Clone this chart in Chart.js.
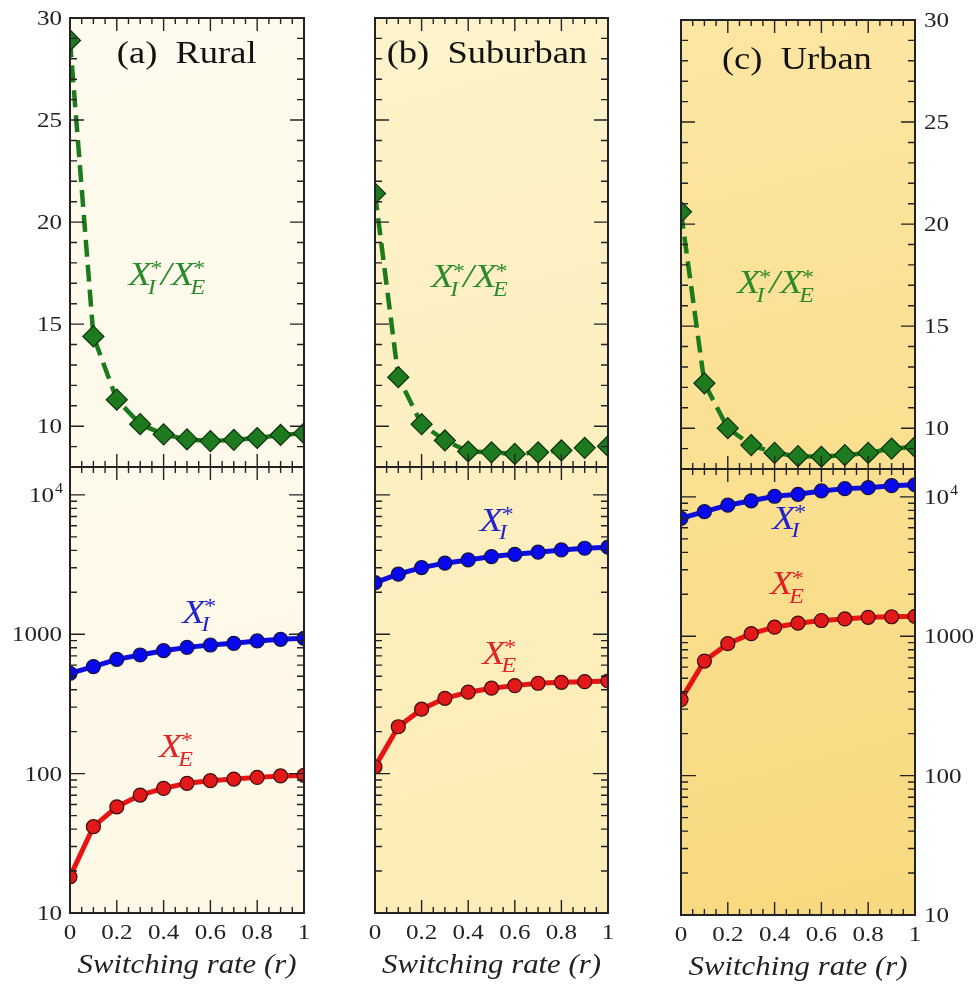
<!DOCTYPE html>
<html>
<head>
<meta charset="utf-8">
<title>Switching rate</title>
<script src="https://cdn.jsdelivr.net/npm/chart.js@4.4.1/dist/chart.umd.min.js"></script>
<style>
  body { margin: 0; background: #fff; }
  #wrap { position: relative; width: 979px; height: 987px; overflow: hidden; }
  #wrap canvas { position: absolute; top: 0; }
</style>
</head>
<body>
<div id="wrap">
  <canvas id="rural" width="330" height="987" style="left:0px"></canvas>
  <canvas id="suburban" width="320" height="987" style="left:330px"></canvas>
  <canvas id="urban" width="329" height="987" style="left:650px"></canvas>
</div>
<script>
// switching rate r on the x axis
const rates = [0, 0.1, 0.2, 0.3, 0.4, 0.5, 0.6, 0.7, 0.8, 0.9, 1.0];

// (a) rural
const ruralRatio = [28.9, 14.4, 11.3, 10.1, 9.6, 9.35, 9.27, 9.33, 9.42, 9.57, 9.65];
const ruralXI = [525, 586, 661, 710, 762, 805, 837, 861, 895, 920, 935];
const ruralXE = [18.2, 41.6, 57.8, 70.2, 78.4, 85.2, 89, 91.4, 94, 96.2, 97];

// (b) suburban
const suburbanRatio = [21.4, 12.4, 10.1, 9.3, 8.76, 8.72, 8.64, 8.72, 8.81, 8.94, 9.02];
const suburbanXI = [2345, 2697, 3008, 3237, 3415, 3607, 3748, 3880, 4028, 4142, 4213];
const suburbanXE = [112, 217, 290, 347, 384, 410, 428, 445, 452, 457, 462];

// (c) urban
const urbanRatio = [20.6, 12.2, 10.0, 9.17, 8.79, 8.63, 8.6, 8.68, 8.79, 9.0, 9.08];
const urbanXI = [7015, 7830, 8715, 9370, 10100, 10430, 11030, 11460, 11650, 12030, 12220];
const urbanXE = [351, 664, 885, 1043, 1161, 1241, 1297, 1331, 1368, 1380, 1390];

// tick labels
const rateTicks = [0, 0.2, 0.4, 0.6, 0.8, 1];
const ratioTicks = [10, 15, 20, 25, 30];
const logTicks = [10, 100, 1000, 10000];

const SERIF = '"Liberation Serif", "Times New Roman", serif';
const STRETCH = 1.14;
const INK = '#222';

// text drawn slightly wide, like the rest of the figure
function wideText(ctx, text, x, y, font, align, color) {
  ctx.save();
  ctx.translate(x, y);
  ctx.scale(STRETCH, 1);
  ctx.font = font;
  ctx.fillStyle = color;
  ctx.textAlign = align;
  ctx.textBaseline = 'alphabetic';
  ctx.fillText(text, 0, 0);
  ctx.restore();
}

// X with a subscript and a * above it; parts like [['X','I'], '/', ['X','E']]
function starLabel(ctx, parts, x, y, size, color) {
  ctx.save();
  ctx.translate(x, y);
  ctx.scale(STRETCH, 1);
  ctx.fillStyle = color;
  ctx.textAlign = 'left';
  ctx.textBaseline = 'alphabetic';
  let cx = 0;
  const small = size * 0.64;
  parts.forEach(p => {
    ctx.font = `italic ${size}px ${SERIF}`;
    if (typeof p === 'string') {
      ctx.fillText(p, cx, 0);
      cx += ctx.measureText(p).width;
      return;
    }
    ctx.fillText(p[0], cx, 0);
    cx += ctx.measureText(p[0]).width;
    ctx.font = `italic ${small}px ${SERIF}`;
    const subX = cx - size * 0.1;
    ctx.fillText(p[1], subX, size * 0.25);
    ctx.fillText('*', subX + size * 0.04, -size * 0.3);
    cx = subX + Math.max(ctx.measureText(p[1]).width, ctx.measureText('*').width) + size * 0.03;
  });
  ctx.restore();
}

const panelCfg = {};

const panelPlugin = {
  id: 'panelFrame',
  beforeDatasetsDraw(chart) {
    const cfg = panelCfg[chart.canvas.id];
    const { ctx, chartArea: a } = chart;
    const g = ctx.createLinearGradient(a.left, a.top, a.right, a.bottom);
    g.addColorStop(0, cfg.bg[0]);
    g.addColorStop(1, cfg.bg[1]);
    ctx.save();
    ctx.fillStyle = g;
    ctx.fillRect(a.left, a.top, a.right - a.left, a.bottom - a.top);
    ctx.restore();
  },
  afterDatasetsDraw(chart) {
    const cfg = panelCfg[chart.canvas.id];
    const { ctx, chartArea: a } = chart;
    const sx = chart.scales.x, yr = chart.scales.yRatio, yl = chart.scales.yLog;

    ctx.save();
    ctx.strokeStyle = INK;
    ctx.lineWidth = 1.4;
    ctx.beginPath();
    const hTick = (px, y0, dir, len) => { ctx.moveTo(px, y0); ctx.lineTo(px, y0 + dir * len); };
    const vTick = (py, x0, dir, len) => { ctx.moveTo(x0, py); ctx.lineTo(x0 + dir * len, py); };

    [yr, yl].forEach(p => {
      // r ticks along the top and bottom edge of each panel
      for (let k = 0; k <= 20; k++) {
        const v = k / 20;
        const len = k % 4 === 0 ? 13 : 6;
        const px = sx.getPixelForValue(v);
        hTick(px, p.top, 1, len);
        hTick(px, p.bottom, -1, len);
      }
    });
    // ratio panel: every unit, major every 5
    for (let v = 9; v < 30; v++) {
      const len = v % 5 === 0 ? 14 : 7;
      const py = yr.getPixelForValue(v);
      vTick(py, a.left, 1, len);
      vTick(py, a.right, -1, len);
    }
    // log panel: decades and 2..9 in between
    for (let d = 1; d <= 4; d++) {
      for (let m = 1; m <= 9; m++) {
        const v = m * Math.pow(10, d);
        if (v <= yl.min || v >= yl.max) continue;
        const len = m === 1 ? 15 : 7;
        const py = yl.getPixelForValue(v);
        vTick(py, a.left, 1, len);
        vTick(py, a.right, -1, len);
      }
    }
    ctx.stroke();

    // frame and divider
    ctx.lineWidth = 2;
    ctx.strokeRect(a.left, a.top, a.right - a.left, a.bottom - a.top);
    ctx.beginPath();
    ctx.moveTo(a.left, yr.bottom);
    ctx.lineTo(a.right, yr.bottom);
    ctx.stroke();
    ctx.restore();

    // tick labels
    const tickFont = `22px ${SERIF}`;
    rateTicks.forEach(v => {
      wideText(ctx, String(v), sx.getPixelForValue(v), a.bottom + 26, tickFont, 'center', INK);
    });
    if (cfg.side) {
      const left = cfg.side === 'left';
      const lx = left ? a.left - 8 : a.right + 9;
      const align = left ? 'right' : 'left';
      ratioTicks.forEach(v => {
        wideText(ctx, String(v), lx, yr.getPixelForValue(v) + 7, tickFont, align, INK);
      });
      logTicks.forEach(v => {
        const py = yl.getPixelForValue(v) + 7;
        if (v === 10000) {
          // 10 with a raised 4
          ctx.save();
          ctx.font = tickFont;
          const w10 = ctx.measureText('10').width * STRETCH;
          ctx.font = `14px ${SERIF}`;
          const w4 = ctx.measureText('4').width * STRETCH;
          ctx.restore();
          const x0 = left ? lx - w10 - w4 : lx;
          wideText(ctx, '10', x0, py, tickFont, 'left', INK);
          wideText(ctx, '4', x0 + w10 + 1, py - 9, `14px ${SERIF}`, 'left', INK);
        } else {
          wideText(ctx, String(v), lx, py, tickFont, align, INK);
        }
      });
    }

    // axis title
    wideText(ctx, 'Switching rate (r)', (a.left + a.right) / 2, a.bottom + 60,
      `italic 27px ${SERIF}`, 'center', INK);

    // panel heading
    wideText(ctx, cfg.title, sx.getPixelForValue(cfg.titleAt[0]), yr.getPixelForValue(cfg.titleAt[1]),
      `32px ${SERIF}`, 'left', '#111');

    // curve names
    starLabel(ctx, [['X', 'I'], '/', ['X', 'E']], sx.getPixelForValue(cfg.ratioAt[0]),
      yr.getPixelForValue(cfg.ratioAt[1]), 33, '#2b8a2b');
    starLabel(ctx, [['X', 'I']], sx.getPixelForValue(cfg.xiAt[0]),
      yl.getPixelForValue(cfg.xiAt[1]), 33, '#2323cc');
    starLabel(ctx, [['X', 'E']], sx.getPixelForValue(cfg.xeAt[0]),
      yl.getPixelForValue(cfg.xeAt[1]), 33, '#e02424');
  }
};

function buildChart(id, cfg) {
  panelCfg[id] = cfg;
  const pts = arr => rates.map((r, i) => ({ x: r, y: arr[i] }));
  const pos = cfg.side === 'right' ? 'right' : 'left';
  const yFit = s => { s.width = cfg.axisW; };
  const hidden = { grid: { display: false }, border: { display: false }, ticks: { display: false } };

  const ratioScale = {
    type: 'linear', position: pos, stack: 'col', stackWeight: 449,
    min: 8, max: 30,
    afterBuildTicks: s => { s.ticks = ratioTicks.map(v => ({ value: v })); },
    afterFit: yFit, ...hidden
  };
  const logScale = {
    type: 'logarithmic', position: pos, stack: 'col', stackWeight: 446,
    min: 10, max: 15849,
    afterBuildTicks: s => { s.ticks = logTicks.map(v => ({ value: v })); },
    afterFit: yFit, ...hidden
  };
  const scales = {
    x: {
      type: 'linear', min: 0, max: 1,
      afterBuildTicks: s => { s.ticks = rateTicks.map(v => ({ value: v })); },
      afterFit: s => { s.height = cfg.xH; }, ...hidden
    }
  };
  // left-hand stacks are laid out last-first, right-hand ones first-first
  if (pos === 'left') {
    scales.yLog = logScale;
    scales.yRatio = ratioScale;
  } else {
    scales.yRatio = ratioScale;
    scales.yLog = logScale;
  }

  return new Chart(document.getElementById(id), {
    type: 'line',
    data: {
      datasets: [
        {
          data: pts(cfg.ratio), yAxisID: 'yRatio',
          borderColor: '#1b7a1b', borderWidth: 4.5, borderDash: [17, 8],
          pointStyle: 'rectRot', pointRadius: 10.5,
          pointBackgroundColor: '#1e7a1e', pointBorderColor: '#0b300b', pointBorderWidth: 1.2
        },
        {
          data: pts(cfg.xi), yAxisID: 'yLog',
          borderColor: '#0c0ce8', borderWidth: 5,
          pointRadius: 7, pointBackgroundColor: '#0707f0',
          pointBorderColor: '#14143a', pointBorderWidth: 1.2
        },
        {
          data: pts(cfg.xe), yAxisID: 'yLog',
          borderColor: '#e81414', borderWidth: 5,
          pointRadius: 7, pointBackgroundColor: '#e31919',
          pointBorderColor: '#3a0d0d', pointBorderWidth: 1.2
        }
      ]
    },
    options: {
      responsive: false,
      animation: false,
      events: [],
      layout: { padding: cfg.padding },
      elements: { line: { tension: 0 } },
      plugins: { legend: { display: false }, tooltip: { enabled: false } },
      scales
    },
    plugins: [panelPlugin]
  });
}

buildChart('rural', {
  ratio: ruralRatio, xi: ruralXI, xe: ruralXE,
  side: 'left', axisW: 70, xH: 74,
  padding: { top: 18, left: 0, right: 26, bottom: 0 },
  bg: ['#fefbee', '#fdf8e6'],
  title: '(a)  Rural', titleAt: [0.2, 27.8],
  ratioAt: [0.25, 16.9], xiAt: [0.48, 1206], xeAt: [0.38, 131]
});

buildChart('suburban', {
  ratio: suburbanRatio, xi: suburbanXI, xe: suburbanXE,
  side: null, axisW: 45, xH: 74,
  padding: { top: 18, left: 0, right: 42, bottom: 0 },
  bg: ['#fdf2ca', '#fcecb6'],
  title: '(b)  Suburban', titleAt: [0.05, 27.8],
  ratioAt: [0.24, 16.8], xiAt: [0.45, 5520], xeAt: [0.46, 612]
});

buildChart('urban', {
  ratio: urbanRatio, xi: urbanXI, xe: urbanXE,
  side: 'right', axisW: 64, xH: 72,
  padding: { top: 20, left: 31, right: 0, bottom: 0 },
  bg: ['#fce6a3', '#f9d97f'],
  title: '(c)  Urban', titleAt: [0.175, 27.6],
  ratioAt: [0.24, 16.6], xiAt: [0.39, 5930], xeAt: [0.38, 1995]
});
</script>
</body>
</html>
